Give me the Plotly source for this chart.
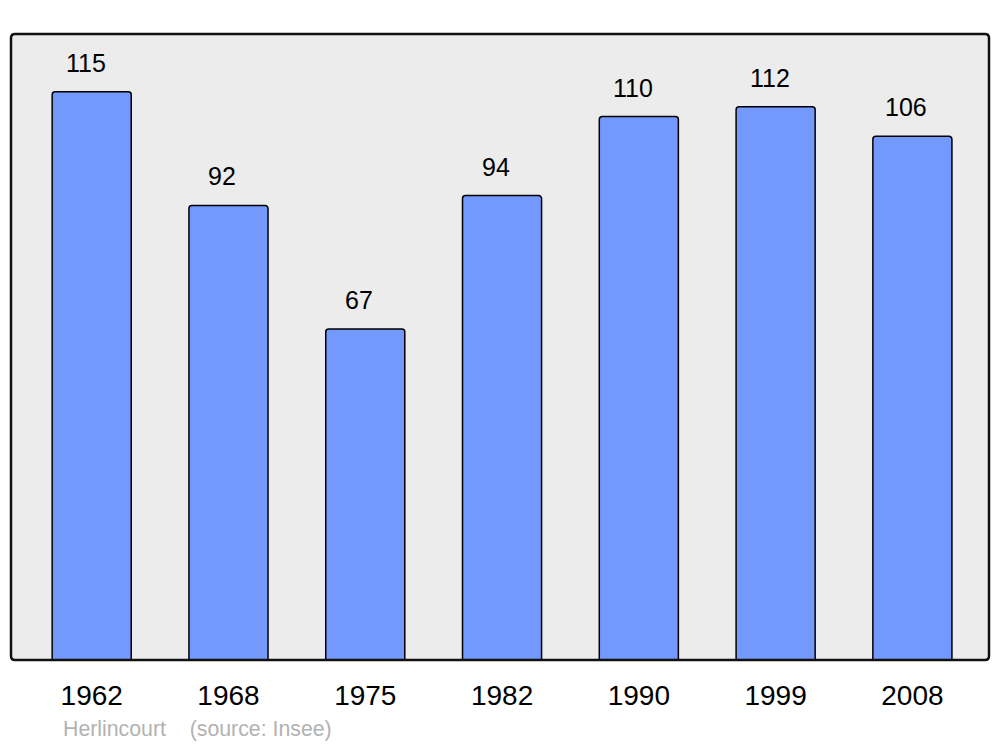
import plotly.graph_objects as go

years = ["1962", "1968", "1975", "1982", "1990", "1999", "2008"]
population = [115, 92, 67, 94, 110, 112, 106]
caption = "Herlincourt\u00a0\u00a0\u00a0\u00a0(source: Insee)"

FONT = "Liberation Sans, Arial, sans-serif"
W, H = 1000, 747
ML, MR, MT, MB = 11, 11, 34, 87

fig = go.Figure()
fig.add_trace(go.Bar(
    x=years, y=population, width=0.578,
    marker=dict(color="#7399ff", line=dict(color="#000000", width=1.5), cornerradius=3),
    hoverinfo="x+y",
))

for i, (yr, v) in enumerate(zip(years, population)):
    fig.add_annotation(x=i, y=v, text=str(v), showarrow=False, yanchor="bottom",
                       yshift=13, xshift=-6,
                       font=dict(family=FONT, size=25, color="#000"))

fig.add_annotation(xref="paper", yref="paper", x=0.0508, y=-0.11, xanchor="left", yanchor="middle",
                   text=caption, showarrow=False,
                   font=dict(family=FONT, size=21.3, color="#b2b2b2"))

# rounded frame around the plot area (paper coordinates)
pw, ph = W - ML - MR, H - MT - MB
rx, ry = 4 / pw, 4 / ph
path = (f"M {rx},0 L {1-rx},0 Q 1,0 1,{ry} L 1,{1-ry} Q 1,1 {1-rx},1 "
        f"L {rx},1 Q 0,1 0,{1-ry} L 0,{ry} Q 0,0 {rx},0 Z")
fig.add_shape(type="path", xref="paper", yref="paper", path=path,
              line=dict(color="#111111", width=2.5), fillcolor="rgba(0,0,0,0)", layer="above")

fig.update_layout(
    width=W, height=H,
    margin=dict(l=ML, r=MR, t=MT, b=MB),
    paper_bgcolor="#ffffff", plot_bgcolor="#ececec",
    showlegend=False,
    xaxis=dict(type="category", range=[-0.59, 6.56], showgrid=False, zeroline=False,
               ticks="outside", ticklen=10, tickcolor="rgba(0,0,0,0)",
               tickfont=dict(family=FONT, size=28, color="#000")),
    yaxis=dict(range=[0, 126.7], showgrid=False, zeroline=False, showticklabels=False),
)

fig.write_html("out.html", config={"displayModeBar": False},
               post_script="document.body.style.margin='0';")
